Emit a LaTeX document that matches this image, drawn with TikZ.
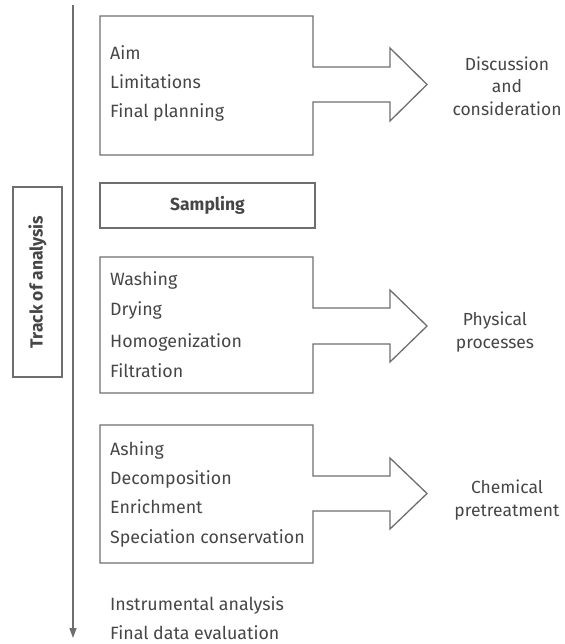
\documentclass[tikz,border=0pt]{standalone}
\usepackage{fontspec}
\setmainfont{Fira Sans}
\usetikzlibrary{positioning,arrows.meta}

\definecolor{linegray}{RGB}{110,110,110}
\definecolor{textgray}{RGB}{70,70,70}

\tikzset{
    outline/.style={draw=linegray, line width=1.3pt, line join=miter},
    item/.style={anchor=base west, inner sep=0pt, text=textgray, font=\fontsize{17.8}{20}\selectfont},
    sidetext/.style={align=center, inner sep=0pt, text=textgray, font=\fontsize{17.5}{22.5}\selectfont},
}

\begin{document}
\begin{tikzpicture}[x=1pt, y=-1pt]

    \useasboundingbox (0,0) rectangle (564,644);

    \coordinate (box1) at (100,16);
    \coordinate (box2) at (100,257);
    \coordinate (box3) at (100,425);
    \coordinate (tracktop) at (73,5);
    \coordinate (trackend) at (73,638);

    % track of analysis
    \path[draw=linegray, line width=1.3pt, -{Triangle[length=10pt,width=7pt]}] (tracktop) -- (trackend);
    \node[outline, rotate=90, minimum width=190pt, minimum height=49pt, inner sep=0pt,
          text=textgray, font=\bfseries\fontsize{17.5}{20}\selectfont] (track) at (37.5,282) {Track of analysis};

    % box with arrow: discussion
    \path[outline] (box1) -- ++(213,0) -- ++(0,51) -- ++(77,0) -- ++(0,-19) -- ++(37,36.5)
        -- ++(-37,36.5) -- ++(0,-19) -- ++(-77,0) -- ++(0,53) -- ++(-213,0) -- cycle;
    \node[item] (aim) at (110,60) {Aim};
    \node[item] (limits) at (110,89) {Limitations};
    \node[item] (planning) at (110,118) {Final planning};
    \node[sidetext] (discussion) at (507,86) {Discussion\\and\\consideration};

    % sampling
    \node[outline, minimum width=215pt, minimum height=45pt, inner sep=0pt,
          text=textgray, font=\bfseries\fontsize{17.5}{20}\selectfont] (sampling) at (207.5,205.5) {Sampling};

    % box with arrow: physical
    \path[outline] (box2) -- ++(213,0) -- ++(0,51) -- ++(77,0) -- ++(0,-18) -- ++(37,36)
        -- ++(-37,36) -- ++(0,-18) -- ++(-77,0) -- ++(0,49) -- ++(-213,0) -- cycle;
    \node[item] (washing) at (110,285) {Washing};
    \node[item] (drying) at (110,315) {Drying};
    \node[item] (homogen) at (110,347) {Homogenization};
    \node[item] (filtration) at (110,377) {Filtration};
    \node[sidetext] (physical) at (495,332) {Physical\\processes};

    % box with arrow: chemical
    \path[outline] (box3) -- ++(213,0) -- ++(0,51) -- ++(77,0) -- ++(0,-18) -- ++(37,35.5)
        -- ++(-37,35.5) -- ++(0,-18) -- ++(-77,0) -- ++(0,52) -- ++(-213,0) -- cycle;
    \node[item] (ashing) at (110,455) {Ashing};
    \node[item] (decomp) at (110,484) {Decomposition};
    \node[item] (enrich) at (110,513) {Enrichment};
    \node[item] (speciation) at (110,543) {Speciation conservation};
    \node[sidetext] (chemical) at (507,500) {Chemical\\pretreatment};

    % remaining steps
    \node[item] (instrumental) at (110,610) {Instrumental analysis};
    \node[item] (evaluation) at (110,639) {Final data evaluation};

\end{tikzpicture}
\end{document}
